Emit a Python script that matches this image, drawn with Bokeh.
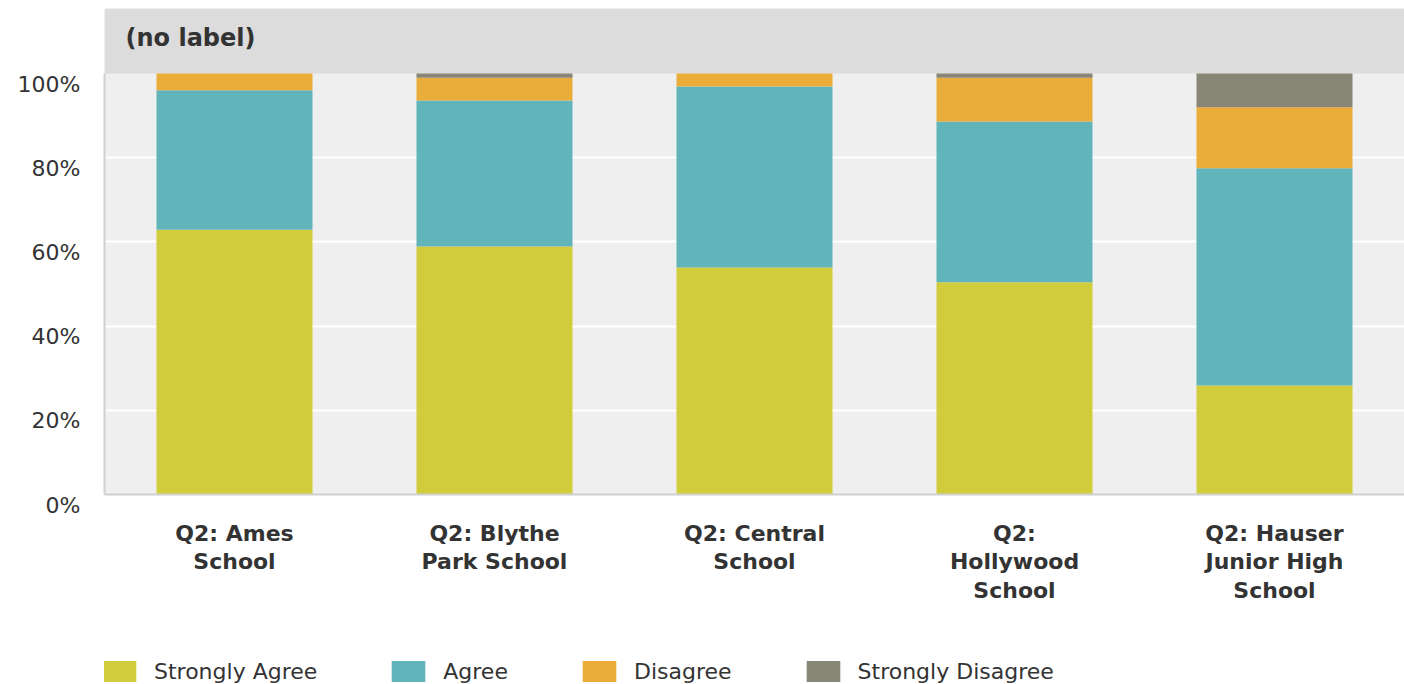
from bokeh.plotting import figure
from bokeh.layouts import column
from bokeh.models import (FactorRange, Range1d, FixedTicker, Legend, LegendItem,
                          BoxAnnotation, Label, ColumnDataSource)
from bokeh.embed import file_html
from bokeh.resources import INLINE

schools = ["Q2: Ames\nSchool", "Q2: Blythe\nPark School", "Q2: Central\nSchool",
           "Q2:\nHollywood\nSchool", "Q2: Hauser\nJunior High\nSchool"]
series = ["Strongly Agree", "Agree", "Disagree", "Strongly Disagree"]
strongly_agree = [62.9, 58.9, 53.9, 50.4, 25.9]
agree = [33.1, 34.7, 43.0, 38.2, 51.6]
disagree = [4.0, 5.4, 3.1, 10.4, 14.5]
strongly_disagree = [0.0, 1.0, 0.0, 1.0, 8.0]
y_ticks = [0, 20, 40, 60, 80, 100]
y_tick_labels = ["0%", "20%", "40%", "60%", "80%", "100%"]
header_text = "(no label)"
colors = ["#d1cc3c", "#62b4bb", "#ebad3a", "#888677"]

FONT = "DejaVu Sans"
TXT = "#333333"

source = ColumnDataSource(data=dict(school=schools, sa=strongly_agree, a=agree,
                                    d=disagree, sd=strongly_disagree))

# ---------------- main plot ----------------
p = figure(frame_width=1300, frame_height=486, output_backend="svg", toolbar_location=None,
           x_range=FactorRange(*schools, range_padding=0),
           y_range=Range1d(0, 115.44))
p.min_border_left = 104
p.min_border_top = 8
p.min_border_right = 0
p.min_border_bottom = 146
p.background_fill_color = "#efefef"
p.border_fill_color = "white"
p.outline_line_color = None

rs = p.vbar_stack(["sa", "a", "d", "sd"], x="school", width=0.6, color=colors,
                  line_color=None, source=source)

# header band
p.add_layout(BoxAnnotation(bottom=100, fill_color="#dcdcdc", fill_alpha=1,
                           line_color=None, level="underlay"))
p.add_layout(Label(x=21, x_units="screen", y=108.5, text=header_text,
                   text_font=FONT, text_font_style="bold", text_font_size="24px",
                   text_color=TXT, text_baseline="middle"))

p.xgrid.grid_line_color = None
p.ygrid.grid_line_color = "white"
p.ygrid.grid_line_width = 2
p.ygrid.ticker = FixedTicker(ticks=[20, 40, 60, 80])

# y axis: labels sit a little below their ticks (leading empty line shifts them down)
p.yaxis.ticker = FixedTicker(ticks=y_ticks)
p.yaxis.major_label_overrides = {t: "\n" + l for t, l in zip(y_ticks, y_tick_labels)}
p.yaxis.bounds = (0, 100)
p.yaxis.major_tick_line_color = None
p.yaxis.minor_tick_line_color = None
p.yaxis.axis_line_color = "#d0d0d0"
p.yaxis.axis_line_width = 2
p.yaxis.major_label_standoff = 18
p.yaxis.major_label_text_font = FONT
p.yaxis.major_label_text_font_size = "22px"
p.yaxis.major_label_text_color = TXT
p.yaxis.major_label_text_line_height = 0.85

p.xaxis.major_tick_line_color = None
p.xaxis.axis_line_color = "#d0d0d0"
p.xaxis.axis_line_width = 2
p.xaxis.major_label_standoff = 20
p.xaxis.major_label_text_font = FONT
p.xaxis.major_label_text_font_style = "bold"
p.xaxis.major_label_text_font_size = "22px"
p.xaxis.major_label_text_color = TXT
p.xaxis.major_label_text_line_height = 1.15

# ---------------- legend strip ----------------
lg = figure(width=1404, height=44, output_backend="svg", toolbar_location=None,
            x_range=Range1d(0, 1), y_range=Range1d(0, 1),
            x_axis_location=None, y_axis_location=None)
lg.min_border = 0
lg.min_border_left = lg.min_border_right = lg.min_border_top = lg.min_border_bottom = 0
lg.outline_line_color = None
lg.grid.grid_line_color = None
# legend-only proxy swatches, placed outside the strip's visible range
proxies = [lg.vbar(x=[5], top=[5], width=1, color=c, line_color=None) for c in colors]
legend = Legend(items=[LegendItem(label=s, renderers=[r]) for s, r in zip(series, proxies)],
                orientation="horizontal", location=(-6, 0))
legend.glyph_width = 42
legend.glyph_height = 26
legend.label_standoff = 14
legend.spacing = 70
legend.padding = 0
legend.margin = 0
legend.border_line_color = None
legend.background_fill_alpha = 0
legend.label_text_font = FONT
legend.label_text_font_size = "22px"
legend.label_text_color = TXT
lg.add_layout(legend, "center")

layout = column(p, lg)
open("out.html", "w").write(file_html(layout, INLINE))
